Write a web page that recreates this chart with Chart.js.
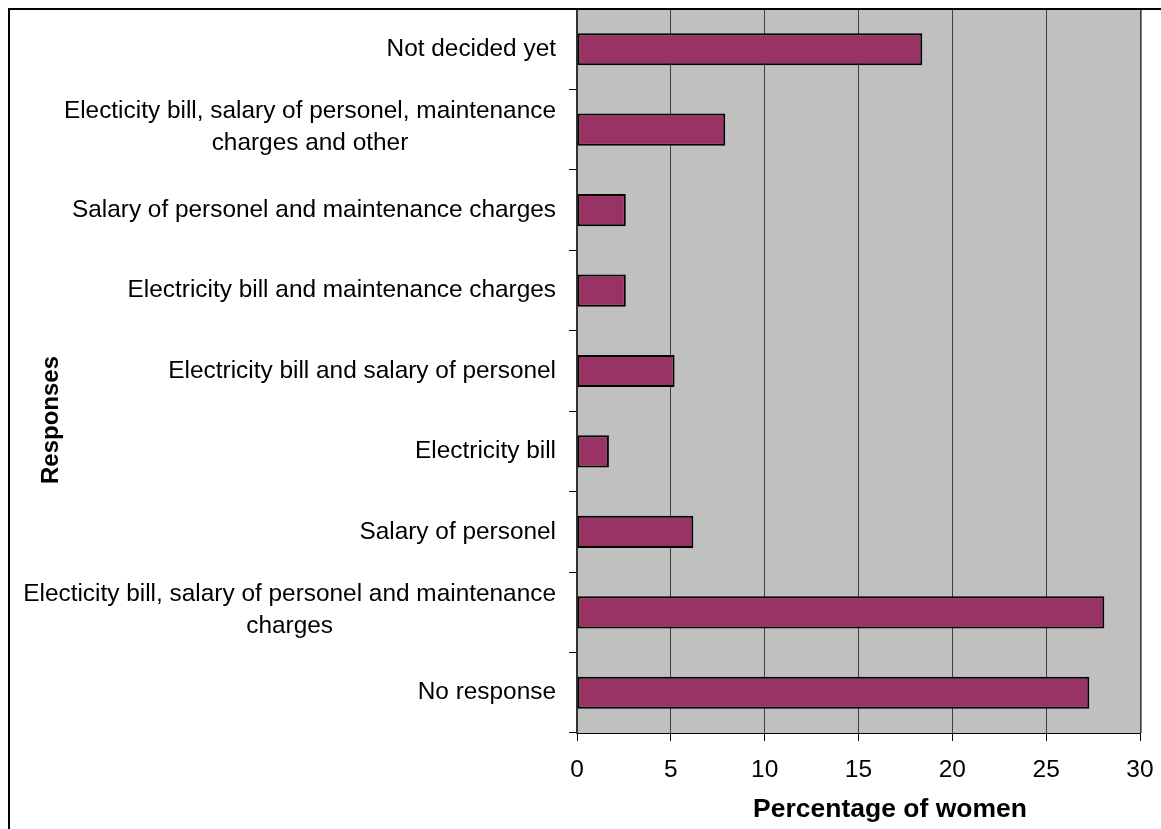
<!DOCTYPE html>
<html>
<head>
<meta charset="utf-8">
<script src="https://cdn.jsdelivr.net/npm/chart.js@4"></script>
<style>
  html, body { margin: 0; padding: 0; background: #fff; }
  #wrap { width: 1161px; height: 829px; }
</style>
</head>
<body>
<div id="wrap"><canvas id="chart" width="1161" height="829"></canvas></div>
<script>
// Spending responses, listed top to bottom
const categories = [
  ["Not decided yet"],
  ["Electicity bill, salary of personel, maintenance", "charges and other"],
  ["Salary of personel and maintenance charges"],
  ["Electricity bill and maintenance charges"],
  ["Electricity bill and salary of personel"],
  ["Electricity bill"],
  ["Salary of personel"],
  ["Electicity bill, salary of personel and maintenance", "charges"],
  ["No response"]
];
// Share of women giving each response (%)
const percentages = [18.4, 7.9, 2.6, 2.6, 5.2, 1.7, 6.2, 28.1, 27.3];
const xTickValues = [0, 5, 10, 15, 20, 25, 30];
const xTitle = "Percentage of women";
const yTitle = "Responses";

const FONT = "'Liberation Sans', Arial, sans-serif";

// Gray plot background, right edge of the plot area
const plotBackground = {
  id: 'plotBackground',
  beforeDraw(chart) {
    const { ctx, chartArea: a } = chart;
    ctx.save();
    ctx.fillStyle = '#ffffff';
    ctx.fillRect(0, 0, chart.width, chart.height);
    ctx.fillStyle = '#c0c0c0';
    ctx.fillRect(a.left, a.top, a.right - a.left, a.bottom - a.top);
    ctx.fillStyle = '#808080';
    ctx.fillRect(a.right, a.top, 2, a.bottom - a.top);
    ctx.restore();
  }
};

// Category labels (multi-line ones centred on themselves), axis titles, outer frame
const annotations = {
  id: 'annotations',
  afterDraw(chart) {
    const { ctx, chartArea: a } = chart;
    const yScale = chart.scales.y;
    ctx.save();
    ctx.fillStyle = '#000';
    ctx.font = `24.4px ${FONT}`;
    ctx.textBaseline = 'middle';
    const rightEdge = a.left - 21;
    const lineH = 32;
    categories.forEach((lines, i) => {
      const yc = yScale.getPixelForValue(i);
      if (lines.length === 1) {
        ctx.textAlign = 'right';
        ctx.fillText(lines[0], rightEdge, yc);
      } else {
        const w = Math.max(...lines.map(l => ctx.measureText(l).width));
        const cx = rightEdge - w / 2;
        ctx.textAlign = 'center';
        const y0 = yc - (lines.length - 1) * lineH / 2 - 2;
        lines.forEach((l, k) => ctx.fillText(l, cx, y0 + k * lineH));
      }
    });

    ctx.textAlign = 'center';
    ctx.textBaseline = 'alphabetic';
    ctx.font = `bold 26.5px ${FONT}`;
    ctx.fillText(xTitle, 890, 817);

    ctx.font = `bold 24px ${FONT}`;
    ctx.save();
    ctx.translate(58, 420);
    ctx.rotate(-Math.PI / 2);
    ctx.fillText(yTitle, 0, 0);
    ctx.restore();

    ctx.fillStyle = '#000';
    ctx.fillRect(8, 8, 2, chart.height - 8);
    ctx.fillRect(8, 8, chart.width - 8, 2);
    ctx.restore();
  }
};

new Chart(document.getElementById('chart'), {
  type: 'bar',
  data: {
    labels: categories,
    datasets: [{
      data: percentages,
      backgroundColor: '#993366',
      borderColor: '#000000',
      borderWidth: 2,
      borderSkipped: false,
      barPercentage: 0.4,
      categoryPercentage: 1.0
    }]
  },
  options: {
    indexAxis: 'y',
    responsive: false,
    devicePixelRatio: 1,
    animation: false,
    layout: { padding: { left: 0, top: 9, right: 21, bottom: 0 } },
    plugins: { legend: { display: false }, tooltip: { enabled: false } },
    scales: {
      x: {
        type: 'linear',
        min: 0,
        max: 30,
        afterBuildTicks(scale) {
          scale.ticks = xTickValues.map(v => ({ value: v }));
        },
        afterFit(scale) {
          scale.height = 96;
          scale.paddingLeft = 0;
          scale.paddingRight = 0;
        },
        grid: {
          color: '#404040',
          lineWidth: 1,
          drawTicks: true,
          tickLength: 8,
          tickColor: '#000000'
        },
        border: { display: true, color: '#000000', width: 1 },
        ticks: {
          color: '#000',
          font: { family: FONT, size: 24.5 },
          padding: 15,
          maxRotation: 0
        }
      },
      y: {
        type: 'category',
        offset: true,
        afterFit(scale) { scale.width = 577; },
        grid: {
          offset: true,
          drawOnChartArea: false,
          drawTicks: true,
          tickLength: 8,
          tickColor: (ctx) => ctx.index === 0 ? 'rgba(0,0,0,0)' : '#000000'
        },
        border: { display: true, color: '#333333', width: 2 },
        ticks: { display: false }
      }
    }
  },
  plugins: [plotBackground, annotations]
});
</script>
</body>
</html>
